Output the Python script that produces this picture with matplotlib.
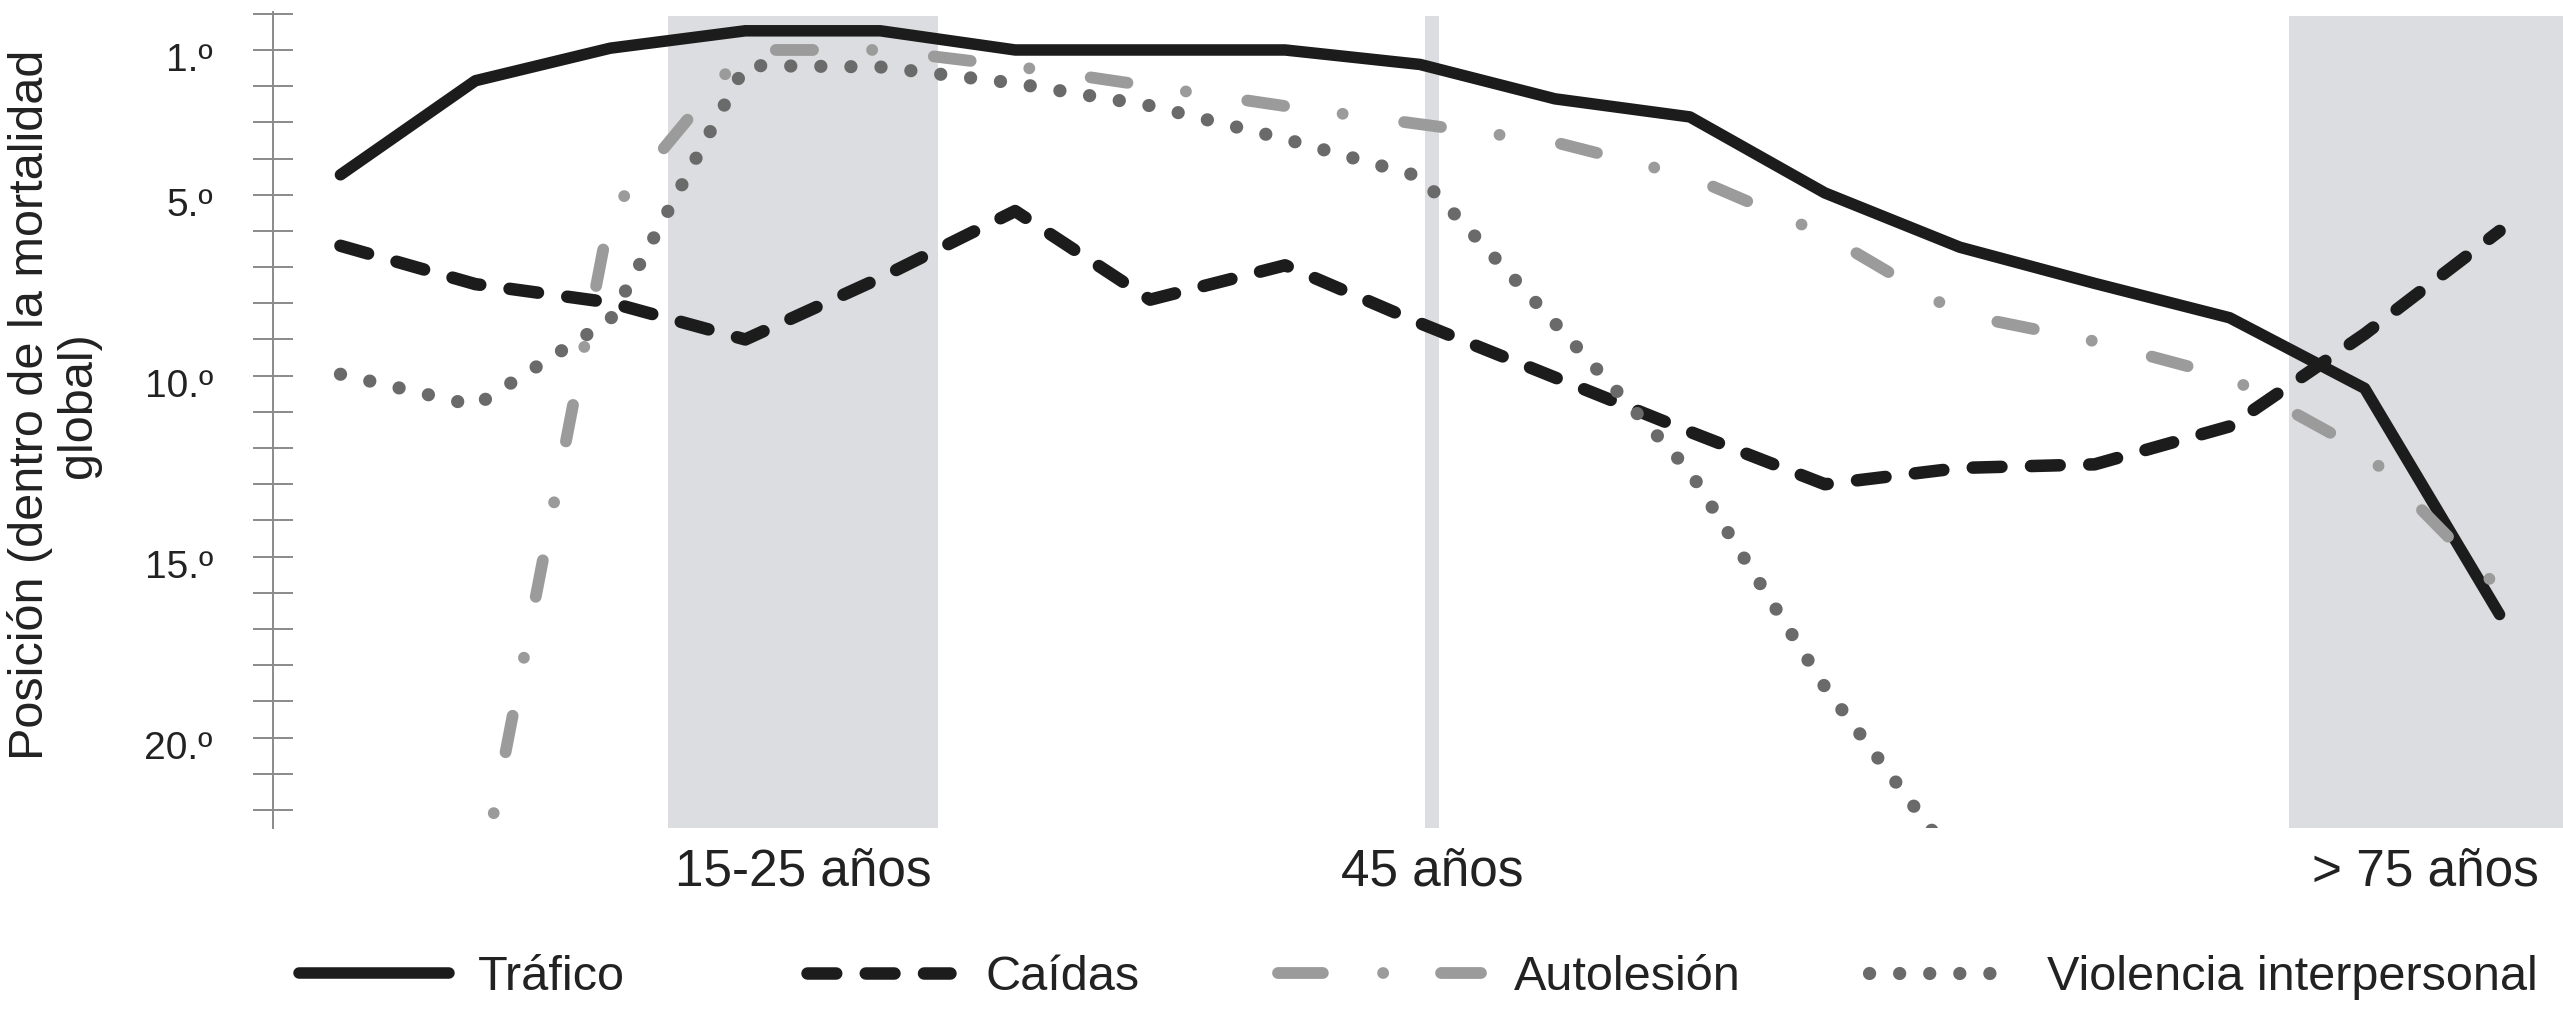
import numpy as np
import matplotlib
matplotlib.use('Agg')
import matplotlib.pyplot as plt
from matplotlib.lines import Line2D
from matplotlib.transforms import ScaledTranslation

plt.rcParams['font.family'] = ['Liberation Sans', 'DejaVu Sans']

# Age groups (5-year bins), position in global mortality ranking (1 = top)
age_idx = np.arange(17)
trafico = [4.45, 1.85, 0.95, 0.47, 0.47, 1.0, 1.0, 1.0, 1.4, 2.35, 2.85, 4.95, 6.45, 7.45, 8.4, 10.35, 16.6]
caidas = [6.41, 7.47, 7.98, 9.0, 7.3, 5.45, 7.9, 6.95, 8.55, 10.05, 11.55, 13.0, 12.55, 12.45, 11.4, 8.85, 6.0]
autolesion = [np.nan, 24.7, 5.5, 1.0, 1.0, 1.45, 2.0, 2.55, 3.05, 3.55, 4.5, 6.1, 8.3, 9.05, 10.05, 12.1, 15.9]
violencia = [9.96, 10.83, 8.45, 1.43, 1.47, 1.92, 2.54, 3.46, 4.5, 8.55, 12.65, 18.6, 23.6,
             np.nan, np.nan, np.nan, np.nan]

series_names = ['Tráfico', 'Caídas', 'Autolesión', 'Violencia interpersonal']

# highlighted age bands
band_labels = ['15-25 años', '45 años', '> 75 años']
band_pos = [3.43, 8.09, 15.45]
bands = [(2.43, 4.43), (8.04, 8.14), (14.44, 16.47)]

rank_ticks = [1, 5, 10, 15, 20]
rank_labels = ['1.º', '5.º', '10.º', '15.º', '20.º']

dark = '#1c1c1c'
mid = '#6a6a6a'
light = '#9b9b9b'
shade = '#dcdde0'
axis_col = '#8a8a8a'

# line styles (dash patterns in units of line width)
styles = [
    dict(color=dark, lw=8.3, solid_capstyle='round', solid_joinstyle='round'),
    dict(color=dark, lw=9, dashes=(2.3, 2.36), dash_capstyle='round', dash_joinstyle='round'),
    dict(color=light, lw=8.5, dashes=(3.15, 5.0, 0.01, 5.25), dash_capstyle='round',
         dash_joinstyle='round'),
    dict(color=mid, lw=9.5, dashes=(0.01, 2.27), dash_capstyle='round'),
]

fig = plt.figure(figsize=(25.63, 10.15), dpi=100)
ax = fig.add_axes([0.1065, 0.1842, 0.8935, 0.804])

for x0, x1 in bands:
    ax.axvspan(x0, x1, ymin=0, ymax=0.995, color=shade, lw=0, zorder=0)

for vals, st, z in zip([trafico, caidas, autolesion, violencia], styles, [3, 3, 4, 4]):
    ax.plot(age_idx, vals, zorder=z, **st)

ax.set_xlim(-0.5, 16.47)
ax.set_ylim(22.5, -0.05)

# y axis: rank ticks
ax.set_yticks(rank_ticks)
ax.set_yticklabels(rank_labels)
ax.set_yticks(np.arange(0, 23), minor=True)
ax.tick_params(axis='y', which='both', direction='inout', length=29, width=1.4,
               color=axis_col, pad=28.8)
ax.tick_params(axis='y', which='major', labelsize=28, labelcolor='#222222')
offset = ScaledTranslation(0, -5 / 72, fig.dpi_scale_trans)
for lab in ax.get_yticklabels():
    lab.set_transform(lab.get_transform() + offset)

ax.set_xticks(band_pos)
ax.set_xticklabels(band_labels)
ax.tick_params(axis='x', length=0, pad=14, labelsize=37, labelcolor='#222222')

for s in ['top', 'right', 'bottom']:
    ax.spines[s].set_visible(False)
ax.spines['left'].set_color(axis_col)
ax.spines['left'].set_linewidth(1.4)

fig.text(0.021, 0.601, 'Posición (dentro de la mortalidad\nglobal)', rotation=90,
         ha='center', va='center', multialignment='center', fontsize=35,
         linespacing=1.1, color='#222222')

# legend: one small legend per entry so each handle keeps its own length
leg_x = [0.1167, 0.3149, 0.4987, 0.7293]
leg_len = [3.09, 2.95, 4.18, 3.05]
leg_pad = [0.58, 0.72, 0.66, 0.6]
leg_styles = list(styles)
leg_styles[2] = dict(color=light, lw=8.5, dashes=(3.8, 5.1, 0.01, 4.9), dash_capstyle='round')
for name, st, x, hl, hp in zip(series_names, leg_styles, leg_x, leg_len, leg_pad):
    h = Line2D([], [], **st)
    fig.legend([h], [name], loc='center left', bbox_to_anchor=(x, 0.0374),
               frameon=False, fontsize=35, handlelength=hl, handletextpad=hp,
               borderpad=0, borderaxespad=0, labelcolor='#222222')

fig.savefig('out.png', dpi=100)
